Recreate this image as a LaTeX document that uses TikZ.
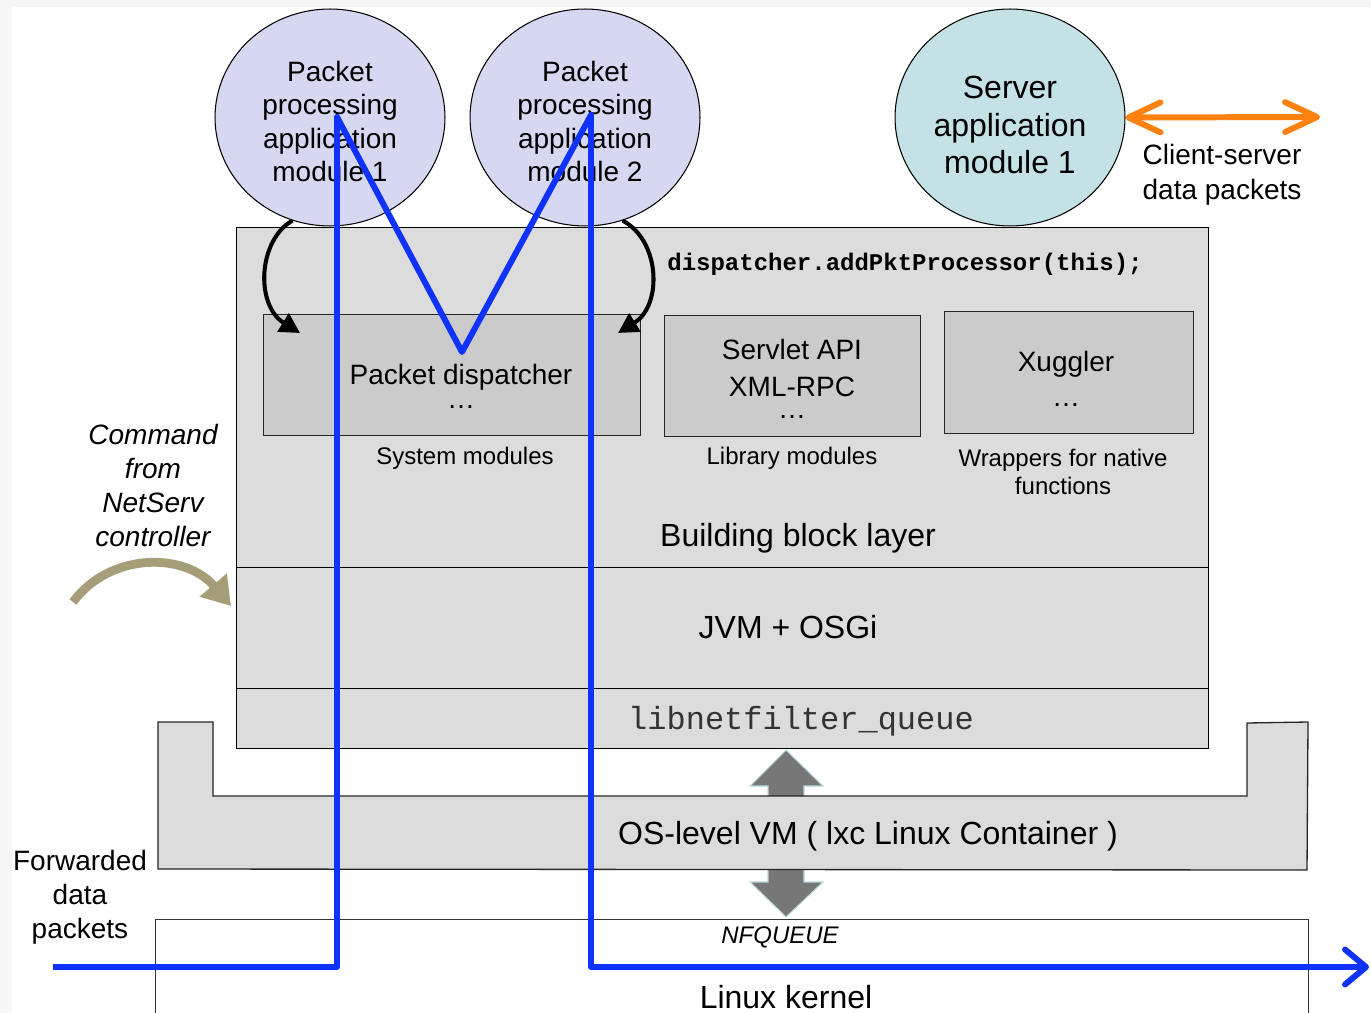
\documentclass[tikz,border=0pt]{standalone}
\usepackage{fontspec}
\setmainfont{Liberation Sans}
\setmonofont{Liberation Mono}
\usetikzlibrary{arrows.meta,shapes.geometric}

\definecolor{appfill}{HTML}{D6D8F2}
\definecolor{srvfill}{HTML}{C4E2E6}
\definecolor{layerfill}{HTML}{DCDCDC}
\definecolor{modfill}{HTML}{CBCBCB}
\definecolor{flowblue}{HTML}{0F32FF}
\definecolor{csorange}{HTML}{FF8210}
\definecolor{cmdolive}{HTML}{A59E78}
\definecolor{qgray}{HTML}{777777}
\definecolor{qedge}{HTML}{B8DCDC}
\definecolor{edgegray}{HTML}{F6F6F6}

% text sizes (1 unit = 0.02cm)
\newcommand\txtmid{\fontsize{15.94}{19.35}\selectfont}
\newcommand\txtsmall{\fontsize{13.66}{15.9}\selectfont}
\newcommand\txtlarge{\fontsize{18.21}{21.05}\selectfont}

\begin{document}
\begin{tikzpicture}[x=0.02cm,y=-0.02cm,
  appmod/.style={ellipse, draw=black, line width=0.6pt, fill=appfill,
    minimum width=4.6cm, minimum height=4.34cm, inner sep=0pt},
  srvmod/.style={appmod, fill=srvfill},
  layerbox/.style={rectangle, draw=black, line width=0.75pt, fill=layerfill,
    inner sep=0pt, anchor=north west},
  modbox/.style={layerbox, draw=black!85, fill=modfill},
  kernbox/.style={layerbox, draw=black!80, fill=white},
  label/.style={inner sep=0pt, align=center},
  regarrow/.style={draw=black, line width=2.3pt,
    -{Triangle[length=0.4cm,width=0.42cm]}},
  flowline/.style={draw=flowblue, line width=3.4pt, line join=round,
    -{Straight Barb[length=0.42cm,width=0.7cm,round]}},
  csarrow/.style={draw=csorange, line width=3.4pt,
    {Straight Barb[length=0.64cm,width=0.6cm,round]}-{Straight Barb[length=0.64cm,width=0.6cm,round]}},
  cmdarrow/.style={draw=cmdolive, line width=5pt,
    -{Triangle[length=0.55cm,width=0.68cm]}},
]
\useasboundingbox (0,0) rectangle (1371,1013);
\clip (0,0) rectangle (1371,1013);

% page background
\fill[edgegray] (0,0) rectangle (1371,1013);
\fill[white] (12,7) rectangle (1371,1013);

% queue exchange between the container and the kernel
\filldraw[fill=qgray, draw=qedge, line width=0.6pt]
  (786,750) -- (823,786) -- (804,786) -- (804,882) -- (823,882) -- (786,917)
  -- (750,882) -- (768,882) -- (768,786) -- (750,786) -- cycle;

% OS-level container
\filldraw[fill=layerfill, draw=black!85, line width=0.75pt]
  (158,722) -- (213,722) -- (213,796) -- (1247,796) -- (1247,723)
  -- (1308,722) -- (1307,870) -- (158,869) -- cycle;

% kernel
\node[kernbox, minimum width=23.06cm, minimum height=2.2cm] (kernel) at (155,919) {};

% NetServ node layers
\node[layerbox, minimum width=19.44cm, minimum height=6.8cm] (bbl) at (236,227) {};
\node[layerbox, minimum width=19.44cm, minimum height=2.42cm] (jvm) at (236,567) {};
\node[layerbox, minimum width=19.44cm, minimum height=1.2cm] (nfqlayer) at (236,688) {};

% building block modules
\node[modbox, minimum width=7.54cm, minimum height=2.42cm] (disp) at (263,314) {};
\node[modbox, minimum width=5.12cm, minimum height=2.42cm] (libbox) at (664,315) {};
\node[modbox, minimum width=4.98cm, minimum height=2.44cm] (natbox) at (944,311) {};

% application modules
\node[appmod] (m1) at (330,117.5) {};
\node[appmod] (m2) at (585,117.5) {};
\node[srvmod] (srv) at (1010,117.5) {};
\node[label, font=\txtmid] (m1txt) at (330,121.5) {Packet\\[-0.3pt]processing\\[-0.3pt]application\\[-0.3pt]module 1};
\node[label, font=\txtmid] (m2txt) at (585,121.5) {Packet\\[-0.3pt]processing\\[-0.3pt]application\\[-0.3pt]module 2};
\node[label, font=\txtlarge] (srvtxt) at (1010,125) {Server\\[0.5pt]application\\[0.5pt]module 1};

% labels
\node[label, font=\txtmid] (disptxt) at (461,386) {Packet dispatcher\\[-5.7pt]…};
\node[label, font=\txtmid] (libtxt) at (792,379) {Servlet API\\[1.7pt]XML-RPC\\[-6.8pt]…};
\node[label, font=\txtmid] (nattxt) at (1066,379) {Xuggler\\[0.6pt]…};
\node[label, font=\txtsmall] (sysm) at (465,458) {System modules};
\node[label, font=\txtsmall] (libm) at (792,458) {Library modules};
\node[label, font=\txtsmall] (natm) at (1063,472) {Wrappers for native\\functions};
\node[label, font=\ttfamily\bfseries\txtsmall, anchor=west] (reg) at (667,264) {dispatcher.addPktProcessor(this);};
\node[label, font=\txtlarge] (bbltxt) at (798,538) {Building block layer};
\node[label, font=\txtlarge] (jvmtxt) at (788,627) {JVM + OSGi};
\node[label, font=\ttfamily\txtlarge, text=black!80] (nfqtxt) at (801,721) {libnetfilter\_queue};
\node[label, font=\txtlarge] (vmtxt) at (868,836) {OS-level VM ( lxc Linux Container )};
\node[label, font=\itshape\txtsmall] (nfq) at (780,937) {NFQUEUE};
\node[label, font=\txtlarge] (kerntxt) at (786,997) {Linux kernel};
\node[label, font=\itshape\txtmid] (cmd) at (153,485) {Command\\from\\NetServ\\controller};
\node[label, font=\txtmid] (fwd) at (80,897) {Forwarded\\data\\packets};
\node[label, font=\txtmid] (cs) at (1222,175) {Client-server\\[0.5pt]data packets};

% connector end points
\coordinate (dispL) at (300,333);
\coordinate (dispR) at (618,333);
\coordinate (fwdin) at (53,967);
\coordinate (m1top) at (337,117);
\coordinate (vtip) at (462,352);
\coordinate (m2top) at (591,115);
\coordinate (fwdout) at (1369,967);
\coordinate (csend) at (1320,117);
\coordinate (cmdstart) at (73,602);
\coordinate (cmdend) at (231,606);

% registration with the dispatcher
\draw[regarrow] (m1.250) .. controls (258,240) and (255,305) .. (dispL);
\draw[regarrow] (m2.290) .. controls (660,240) and (663,305) .. (dispR);

% forwarded packet flow
\draw[flowline] (fwdin) -| (m1top) -- (vtip) -- (m2top) |- (fwdout);

% client-server traffic
\draw[csarrow] (srv.east) -- (csend);

% controller command
\draw[cmdarrow] (cmdstart) .. controls (110,552) and (185,552) .. (cmdend);
\end{tikzpicture}
\end{document}
